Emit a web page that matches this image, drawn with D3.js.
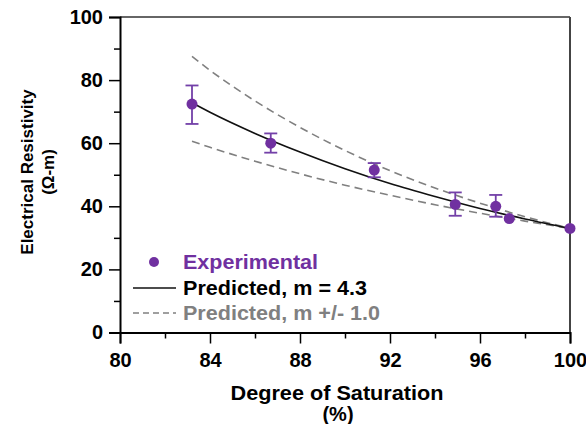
<!DOCTYPE html>
<html>
<head>
<meta charset="utf-8">
<script src="https://cdn.jsdelivr.net/npm/d3@7"></script>
<style>
  body { margin: 0; background: #fff; }
  svg { display: block; font-family: "Liberation Sans", Arial, sans-serif; font-weight: bold; }
</style>
</head>
<body>
<svg id="chart" width="586" height="424"></svg>
<script>
// measured points (degree of saturation %, resistivity ohm-m)
const satExp = [83.2, 86.7, 91.3, 94.9, 96.7, 97.3, 100];
const resExp = [72.4, 60.0, 51.5, 40.6, 40.0, 36.1, 33.0];
const errLow = [66.1, 57.0, 49.2, 37.0, 36.7, 35.5, 32.6];
const errHigh = [78.3, 63.1, 53.7, 44.4, 43.6, 36.7, 33.4];

// predicted curves read along saturation
const satPred = [83.2, 84, 86, 88, 90, 92, 94, 96, 98, 100];
const resPred = [72.8, 69.8, 63.1, 57.2, 51.9, 47.2, 43.1, 39.3, 36.0, 33.0];
const resPredHi = [87.5, 83.1, 73.4, 65.0, 57.7, 51.3, 45.8, 41.0, 36.7, 33.0];
const resPredLo = [60.6, 58.7, 54.3, 50.3, 46.7, 43.5, 40.5, 37.8, 35.3, 33.0];

const xTicks = [80, 84, 88, 92, 96, 100];
const xMinor = [82, 86, 90, 94, 98];
const yTicks = [0, 20, 40, 60, 80, 100];
const yMinor = [10, 30, 50, 70, 90];

const legendLabels = ["Experimental", "Predicted, m = 4.3", "Predicted, m +/- 1.0"];
const legendWidths = [135, 184, 197];

const purple = "#7030a0";
const svg = d3.select("#chart");
const x = d3.scaleLinear().domain([80, 100]).range([120, 570]);
const y = d3.scaleLinear().domain([0, 100]).range([332.5, 17]);

// frame top/right
svg.append("line").attr("x1", 120).attr("x2", 570).attr("y1", y(100)).attr("y2", y(100))
    .attr("stroke", "#333").attr("stroke-width", 1.5);
svg.append("line").attr("x1", 570).attr("x2", 570).attr("y1", y(100)).attr("y2", y(0))
    .attr("stroke", "#444").attr("stroke-width", 2);

// axes
const xAxis = svg.append("g").attr("transform", `translate(0,${y(0)})`)
    .call(d3.axisBottom(x).tickValues(xTicks).tickSize(11).tickPadding(6).tickFormat(d3.format("d")));
svg.append("g").attr("transform", `translate(0,${y(0)})`)
    .call(d3.axisBottom(x).tickValues(xMinor).tickSize(6).tickFormat(""))
    .select(".domain").remove();
const yAxis = svg.append("g").attr("transform", `translate(${x(80)},0)`)
    .call(d3.axisLeft(y).tickValues(yTicks).tickSize(11).tickPadding(6));
svg.append("g").attr("transform", `translate(0,0) translate(${x(80)},0)`)
    .call(d3.axisLeft(y).tickValues(yMinor).tickSize(6).tickFormat(""))
    .select(".domain").remove();

svg.selectAll(".domain").attr("stroke", "#000").attr("stroke-width", 2);
svg.selectAll(".tick line").attr("stroke", "#000").attr("stroke-width", 1.5);
svg.selectAll(".tick text").attr("font-size", 20).attr("font-family", "Liberation Sans")
    .attr("font-weight", "bold").attr("fill", "#000");
xAxis.selectAll(".tick text").attr("dy", "0.85em");

// curves
const line = d3.line().x(d => x(d[0])).y(d => y(d[1])).curve(d3.curveMonotoneX);
[resPredHi, resPredLo].forEach(arr => {
    svg.append("path").datum(satPred.map((s, i) => [s, arr[i]]))
        .attr("d", line).attr("fill", "none")
        .attr("stroke", "#808080").attr("stroke-width", 1.6).attr("stroke-dasharray", "8,5");
});
svg.append("path").datum(satPred.map((s, i) => [s, resPred[i]]))
    .attr("d", line).attr("fill", "none").attr("stroke", "#111").attr("stroke-width", 1.6);

// error bars + points
const pts = satExp.map((s, i) => ({s, r: resExp[i], lo: errLow[i], hi: errHigh[i]}));
const eb = svg.append("g").attr("stroke", "#7340a8").attr("stroke-width", 1.8);
pts.forEach(d => {
    if (d.hi - d.lo < 2) return;
    eb.append("line").attr("x1", x(d.s)).attr("x2", x(d.s)).attr("y1", y(d.lo)).attr("y2", y(d.hi));
    eb.append("line").attr("x1", x(d.s) - 6.5).attr("x2", x(d.s) + 6.5).attr("y1", y(d.lo)).attr("y2", y(d.lo));
    eb.append("line").attr("x1", x(d.s) - 6.5).attr("x2", x(d.s) + 6.5).attr("y1", y(d.hi)).attr("y2", y(d.hi));
});
svg.append("g").selectAll("circle").data(pts).enter().append("circle")
    .attr("cx", d => x(d.s)).attr("cy", d => y(d.r)).attr("r", 5.5).attr("fill", purple);

// legend
const lg = svg.append("g");
lg.append("circle").attr("cx", 154).attr("cy", 262).attr("r", 5).attr("fill", purple);
lg.append("line").attr("x1", 133).attr("x2", 176).attr("y1", 288).attr("y2", 288)
    .attr("stroke", "#111").attr("stroke-width", 1.6);
lg.append("line").attr("x1", 133).attr("x2", 176).attr("y1", 313).attr("y2", 313)
    .attr("stroke", "#808080").attr("stroke-width", 1.6).attr("stroke-dasharray", "6,4");
const legColors = [purple, "#000", "#808080"];
lg.selectAll("text").data(legendLabels).enter().append("text")
    .attr("x", 183).attr("y", (d, i) => 262 + i * 25.5).attr("dy", "0.36em")
    .attr("font-size", 20).attr("fill", (d, i) => legColors[i])
    .attr("textLength", (d, i) => legendWidths[i]).attr("lengthAdjust", "spacingAndGlyphs")
    .text(d => d);

// axis titles
svg.append("text").attr("x", 337).attr("y", 393).attr("dy", "0.36em").attr("text-anchor", "middle")
    .attr("font-size", 20).attr("textLength", 213).attr("lengthAdjust", "spacingAndGlyphs")
    .text("Degree of Saturation");
svg.append("text").attr("x", 338).attr("y", 414).attr("dy", "0.36em").attr("text-anchor", "middle")
    .attr("font-size", 20).text("(%)");
svg.append("text").attr("transform", "translate(27,172) rotate(-90)").attr("dy", "0.36em")
    .attr("text-anchor", "middle").attr("font-size", 17).text("Electrical Resistivity");
svg.append("text").attr("transform", "translate(48,172) rotate(-90)").attr("dy", "0.36em")
    .attr("text-anchor", "middle").attr("font-size", 17).text("(Ω-m)");
</script>
</body>
</html>
